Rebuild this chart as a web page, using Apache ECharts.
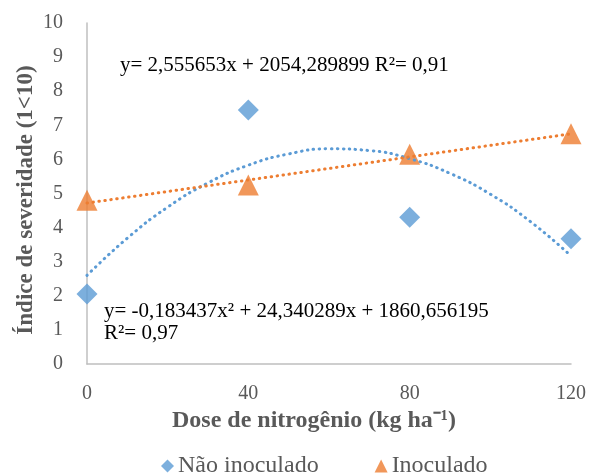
<!DOCTYPE html>
<html><head><meta charset="utf-8">
<script src="https://cdn.jsdelivr.net/npm/echarts@6/dist/echarts.min.js"></script>
<style>html,body{margin:0;padding:0;background:#fff}#c{width:591px;height:473px}</style>
</head><body><div id="c"></div>
<script>
const doses = [0, 40, 80, 120];
const naoInoculado = [2.05, 7.45, 4.3, 3.67];
const inoculado = [4.8, 5.25, 6.15, 6.75];
const trendNaoX = [0, 10, 20, 30, 40, 50, 60, 70, 80, 90, 100, 110, 120];
const trendNaoY = [2.6, 3.69, 4.6, 5.31, 5.83, 6.16, 6.31, 6.26, 6.02, 5.59, 4.98, 4.17, 3.17];
const trendInoX = [0, 120];
const trendInoY = [4.72, 6.75];
const yTicks = [0,1,2,3,4,5,6,7,8,9,10];
const xTitle = 'Dose de nitrogênio (kg ha⁻¹)';
const yTitle = 'Índice de severidade (1<10)';

const FONT = 'Liberation Serif';
const pairs = (xs, ys) => xs.map((x, i) => [x, ys[i]]);
const blue = '#5B9BD5', orange = '#ED7D31';

const chart = echarts.init(document.getElementById('c'));
chart.setOption({
  animation: false,
  backgroundColor: '#fff',
  grid: { left: 87, right: 20, top: 23, bottom: 109 },
  xAxis: {
    type: 'value', min: 0, max: 120, interval: 40,
    axisLine: { show: true, lineStyle: { color: '#BFBFBF', width: 1.5 } },
    axisTick: { show: false },
    splitLine: { show: false },
    axisLabel: { fontFamily: FONT, fontSize: 20, color: '#595959', margin: 20 }
  },
  yAxis: {
    type: 'value', min: yTicks[0], max: yTicks[yTicks.length - 1], interval: 1,
    axisLine: { show: true, lineStyle: { color: '#BFBFBF', width: 1.5 } },
    axisTick: { show: false },
    splitLine: { show: false },
    axisLabel: { fontFamily: FONT, fontSize: 20, color: '#595959', margin: 24 }
  },
  legend: {
    top: 449, left: 156, itemGap: 56, itemWidth: 13, itemHeight: 13,
    textStyle: { fontFamily: FONT, fontSize: 24, color: '#595959', padding: [0, 0, 0, -1] },
    data: [{ name: 'Não inoculado', icon: 'diamond' }, { name: 'Inoculado', icon: 'triangle' }]
  },
  series: [
    { name: 'Não inoculado', type: 'scatter', symbol: 'diamond', symbolSize: 21,
      itemStyle: { color: blue }, data: pairs(doses, naoInoculado), z: 2 },
    { name: 'Inoculado', type: 'scatter', symbol: 'triangle', symbolSize: 21,
      itemStyle: { color: orange }, data: pairs(doses, inoculado), z: 2 },
    { name: 'trendNao', type: 'line', smooth: true, showSymbol: false, symbol: 'none',
      lineStyle: { color: blue, width: 3, type: [0.5, 5.5], cap: 'round' },
      data: pairs(trendNaoX, trendNaoY), z: 3, silent: true },
    { name: 'trendIno', type: 'line', showSymbol: false, symbol: 'none',
      lineStyle: { color: orange, width: 3, type: [0.5, 5.5], cap: 'round' },
      data: pairs(trendInoX, trendInoY), z: 3, silent: true }
  ],
  graphic: [
    { type: 'text', x: 314, y: 421, style: { text: xTitle, font: 'bold 24px "Liberation Serif"', fill: '#595959', align: 'center', verticalAlign: 'middle' } },
    { type: 'text', x: 26, y: 200, rotation: Math.PI / 2, style: { text: yTitle, font: 'bold 23px "Liberation Serif"', fill: '#595959', align: 'center', verticalAlign: 'middle' } },
    { type: 'text', left: 120, top: 55, style: { text: 'y= 2,555653x + 2054,289899 R²= 0,91', font: '21px "Liberation Serif"', fill: '#000' } },
    { type: 'text', left: 104, top: 301, style: { text: 'y= -0,183437x² + 24,340289x + 1860,656195', font: '21px "Liberation Serif"', fill: '#000' } },
    { type: 'text', left: 104, top: 323, style: { text: 'R²= 0,97', font: '21px "Liberation Serif"', fill: '#000' } }
  ]
});
</script></body></html>
